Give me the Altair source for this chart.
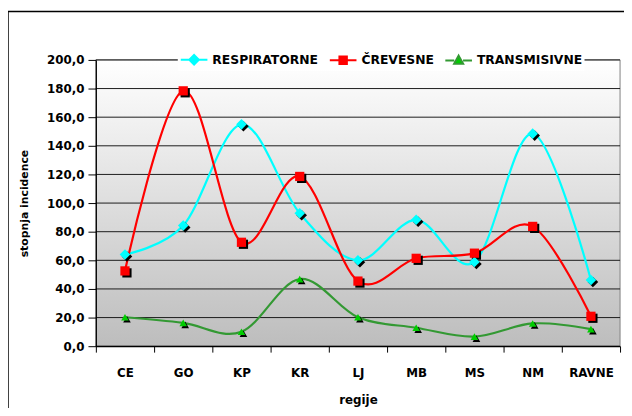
import altair as alt
import pandas as pd

categories = ["CE", "GO", "KP", "KR", "LJ", "MB", "MS", "NM", "RAVNE"]
respiratorne = [64.1, 84.3, 155.0, 92.9, 60.0, 88.3, 58.8, 148.5, 46.2]
crevesne = [52.6, 178.4, 72.6, 118.6, 45.5, 61.4, 65.0, 83.7, 20.9]
transmisivne = [20.2, 16.3, 10.1, 46.9, 20.2, 12.9, 6.7, 15.9, 11.9]
series_names = ["RESPIRATORNE", "ČREVESNE", "TRANSMISIVNE"]
y_ticks = [0, 20, 40, 60, 80, 100, 120, 140, 160, 180, 200]

rows = []
for name, vals in zip(series_names, [respiratorne, crevesne, transmisivne]):
    for c, v in zip(categories, vals):
        rows.append({"regija": c, "serija": name, "vrednost": v})
df = pd.DataFrame(rows)
grid_df = pd.DataFrame({"vrednost": y_ticks})
one = pd.DataFrame({"a": [0]})

W, H = 531, 290
FONT = "DejaVu Sans"

line_colors = ["#00ffff", "#ff0000", "#339933"]
fill_colors = ["#00ffff", "#ff0000", "#00cc00"]
shapes = ["diamond", "square", "triangle-up"]
legend_shapes = [
    "M-1,0H-0.36M0.36,0H1M0,-0.36L0.36,0L0,0.36L-0.36,0Z",
    "M-1,0H-0.28M0.28,0H1M-0.28,-0.28H0.28V0.28H-0.28Z",
    "M-1,0H-0.33M0.33,0H1M0,-0.36L0.34,0.26H-0.34Z",
]

x_enc = alt.X(
    "regija:N",
    sort=categories,
    scale=alt.Scale(type="band", paddingInner=0, paddingOuter=0),
    axis=alt.Axis(
        title="regije", titleFont=FONT, titleFontSize=12, titleFontWeight="bold",
        titleColor="black", titleY=49, titlePadding=0,
        labelFont=FONT, labelFontSize=12, labelFontWeight="bold", labelColor="black",
        labelAngle=0, labelPadding=16, tickSize=6, tickColor="black", tickBand="extent",
        domainColor="black", domainWidth=1.2, grid=False, zindex=1,
    ),
)
y_scale = alt.Scale(domain=[0, 200], nice=False, zero=True)
y_axis = alt.Axis(
    title="stopnja incidence", titleFont=FONT, titleFontSize=11, titleFontWeight="bold",
    titleColor="black", titleX=-72, titleY=H / 2, titleAngle=270,
    titleAlign="center", titleBaseline="middle",
    values=y_ticks, labelExpr="replace(format(datum.value, '.1f'), '.', ',')",
    labelFont=FONT, labelFontSize=12, labelFontWeight="bold", labelColor="black",
    labelPadding=4, tickSize=8, tickColor="black",
    domainColor="black", domainWidth=1.2, grid=False, zindex=1,
)
y_enc = alt.Y("vrednost:Q", scale=y_scale, axis=y_axis)

background = alt.Chart(one).mark_rect(
    fill=alt.LinearGradient(
        gradient="linear",
        stops=[alt.GradientStop(color="#ffffff", offset=0),
               alt.GradientStop(color="#bdbdbd", offset=1)],
        x1=0, x2=0, y1=0, y2=1,
    ),
    stroke="#808080", strokeWidth=1,
).encode(x=alt.value(0), x2=alt.value(W), y=alt.value(0), y2=alt.value(H))

frame = alt.Chart(one).mark_rect(fill=None, stroke="black", strokeWidth=1.5).encode(
    x=alt.value(-89), x2=alt.value(W + 60), y=alt.value(-49), y2=alt.value(H + 120)
)

grid = alt.Chart(grid_df).mark_rule(color="#1a1a1a", strokeWidth=1).encode(y=y_enc)

lines = alt.Chart(df).mark_line(interpolate="cardinal", strokeWidth=2.2).encode(
    x=x_enc, y=y_enc,
    stroke=alt.Stroke("serija:N", sort=series_names,
                      scale=alt.Scale(domain=series_names, range=line_colors), legend=None),
)

size_scale = alt.Scale(domain=series_names, range=[115, 60, 85])

shadow = alt.Chart(df).mark_point(filled=True, color="black", opacity=1, xOffset=2, yOffset=2).encode(
    x=x_enc, y=y_enc,
    shape=alt.Shape("serija:N", scale=alt.Scale(domain=series_names, range=shapes), legend=None),
    size=alt.Size("serija:N", scale=size_scale, legend=None),
)

markers = alt.Chart(df).mark_point(filled=True, opacity=1).encode(
    x=x_enc, y=y_enc,
    shape=alt.Shape("serija:N", scale=alt.Scale(domain=series_names, range=shapes), legend=None),
    size=alt.Size("serija:N", scale=size_scale, legend=None),
    fill=alt.Fill("serija:N", scale=alt.Scale(domain=series_names, range=fill_colors), legend=None),
)

leg = alt.Legend(
    title=None, orient="none", legendX=83, legendY=-17, direction="horizontal", columns=3,
    labelFont=FONT, labelFontSize=12.5, labelFontWeight="bold", labelColor="black",
    symbolSize=729, symbolStrokeWidth=2, symbolOpacity=1, labelOffset=4, columnPadding=7,
    fillColor="white", padding=2, zindex=2, labelLimit=200,
)
legend_layer = alt.Chart(df).mark_point(filled=True, opacity=0, strokeWidth=2).encode(
    x=x_enc, y=y_enc,
    shape=alt.Shape("serija:N", sort=series_names,
                    scale=alt.Scale(domain=series_names, range=legend_shapes), legend=leg),
    fill=alt.Fill("serija:N", sort=series_names,
                  scale=alt.Scale(domain=series_names, range=fill_colors), legend=leg),
    stroke=alt.Stroke("serija:N", sort=series_names,
                      scale=alt.Scale(domain=series_names, range=line_colors), legend=leg),
)

chart = alt.layer(background, frame, grid, lines, shadow, markers, legend_layer).resolve_scale(
    shape="independent", size="independent", fill="independent", stroke="independent"
).properties(
    width=W, height=H, autosize="none",
    padding={"left": 89, "top": 50, "right": 4, "bottom": 60},
    background="white",
).configure_view(stroke=None)

chart.save("out.html", embed_options={"renderer": "svg", "actions": False})
